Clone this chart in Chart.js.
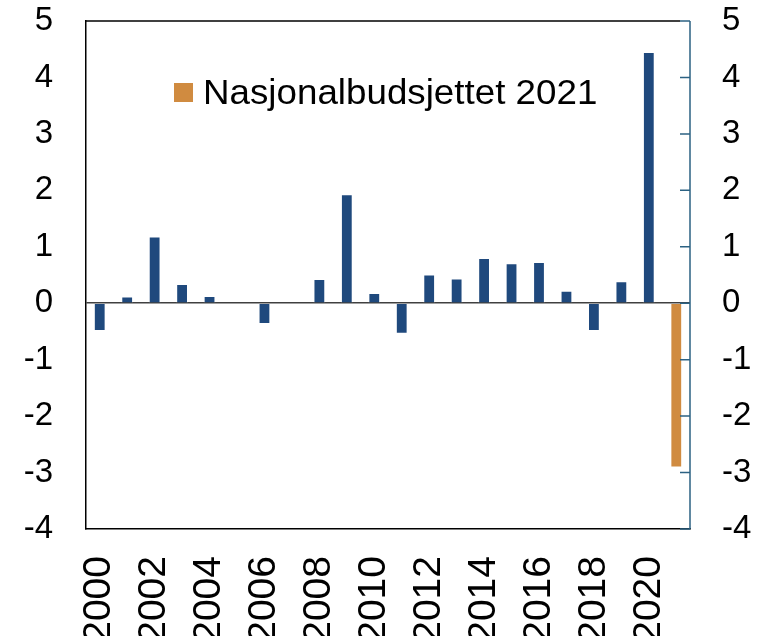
<!DOCTYPE html>
<html>
<head>
<meta charset="utf-8">
<script src="https://cdn.jsdelivr.net/npm/chart.js@4.4.1/dist/chart.umd.min.js"></script>
<style>
  body { margin: 0; background: #fff; overflow: hidden; }
  #wrap { position: relative; width: 759px; height: 636px; overflow: hidden; }
  #legend {
    position: absolute; left: 174px; top: 72px;
    display: flex; align-items: center;
    font-family: "Liberation Sans", Arial, sans-serif; font-size: 35px; color: #000;
    white-space: nowrap;
  }
  #legend span.box { display: inline-block; width: 19px; height: 19px; margin-right: 10px; }
  #legend span.txt { display: inline-block; transform: scaleX(1.05); transform-origin: left center; }
</style>
</head>
<body>
<div id="wrap">
  <canvas id="chart"></canvas>
  <div id="legend"><span class="box"></span><span class="txt"></span></div>
</div>
<script>
const years = [];
for (let y = 2000; y <= 2021; y++) years.push(String(y));

// blue bars 2000-2020, last year is the budget estimate
const actual = [-0.49, 0.12, 1.18, 0.34, 0.13, 0, -0.37, 0, 0.43, 1.93, 0.18,
  -0.54, 0.51, 0.44, 0.8, 0.71, 0.73, 0.22, -0.49, 0.39, 4.45, null];
const budget = [null, null, null, null, null, null, null, null, null, null, null,
  null, null, null, null, null, null, null, null, null, null, -2.91];

const yTicks = [-4, -3, -2, -1, 0, 1, 2, 3, 4, 5];
const budgetLabel = "Nasjonalbudsjettet 2021";

const blue = "#1f497d";
const orange = "#d08b40";
const teal = "#2c6283";
const font = { family: "'Liberation Sans', Arial, sans-serif", size: 33 };
const yearFont = { family: "'Liberation Sans', Arial, sans-serif", size: 39 };

document.querySelector("#legend .box").style.background = orange;
document.querySelector("#legend .txt").textContent = budgetLabel;

const framePlugin = {
  id: "frame",
  afterDraw(chart) {
    const c = chart.ctx;
    const a = chart.chartArea;
    const y1 = chart.scales.y1;
    c.save();
    c.strokeStyle = "#000";
    c.lineWidth = 1.5;
    c.beginPath();
    c.moveTo(a.left, a.top);
    c.lineTo(a.right - 10, a.top);
    c.stroke();
    c.strokeStyle = teal;
    c.beginPath();
    c.moveTo(a.right, a.top);
    c.lineTo(a.right, a.bottom);
    y1.ticks.forEach((t) => {
      const py = y1.getPixelForValue(t.value);
      c.moveTo(a.right - 10, py);
      c.lineTo(a.right, py);
    });
    c.stroke();
    c.restore();
  },
};

function fixY(s, w) {
  s.width = w;
  s.paddingTop = 0;
  s.paddingBottom = 0;
}

new Chart(document.getElementById("chart"), {
  type: "bar",
  data: {
    labels: years,
    datasets: [
      { label: "Faktisk", data: actual, backgroundColor: blue,
        borderColor: "rgba(255,255,255,0.5)", borderWidth: 1 },
      { label: budgetLabel, data: budget, backgroundColor: orange,
        borderColor: "rgba(255,255,255,0.5)", borderWidth: 1 },
    ],
  },
  options: {
    responsive: true,
    maintainAspectRatio: false,
    animation: false,
    layout: { padding: { top: 21, left: 0, right: 0, bottom: 0 } },
    datasets: { bar: { grouped: false, categoryPercentage: 1, barPercentage: 0.43 } },
    plugins: { legend: { display: false }, tooltip: { enabled: false } },
    scales: {
      x: {
        grid: { display: false, drawTicks: false },
        border: { display: true, color: "#000", width: 1.5 },
        ticks: {
          autoSkip: false, maxRotation: 90, minRotation: 90, padding: 27,
          color: "#000", font: yearFont,
          callback: function (val, i) { return i % 2 === 0 ? years[i] : ""; },
        },
        afterFit: (s) => { s.height = 107; s.paddingLeft = 0; s.paddingRight = 0; },
      },
      y: {
        position: "left",
        min: -4, max: 5,
        afterBuildTicks: (s) => { s.ticks = yTicks.map((v) => ({ value: v })); },
        grid: {
          drawTicks: false,
          color: (ctx) => (ctx.tick && ctx.tick.value === 0 ? "#404040" : "rgba(0,0,0,0)"),
          lineWidth: 1.5,
        },
        border: { display: true, color: "#000", width: 1.5 },
        ticks: { color: "#000", font: font, padding: 33 },
        afterFit: (s) => fixY(s, 86),
      },
      y1: {
        position: "right",
        min: -4, max: 5,
        afterBuildTicks: (s) => { s.ticks = yTicks.map((v) => ({ value: v })); },
        grid: { display: false, drawTicks: false },
        border: { display: false },
        ticks: { color: "#000", font: font, padding: 32 },
        afterFit: (s) => fixY(s, 69),
      },
    },
  },
  plugins: [framePlugin],
});
</script>
</body>
</html>
